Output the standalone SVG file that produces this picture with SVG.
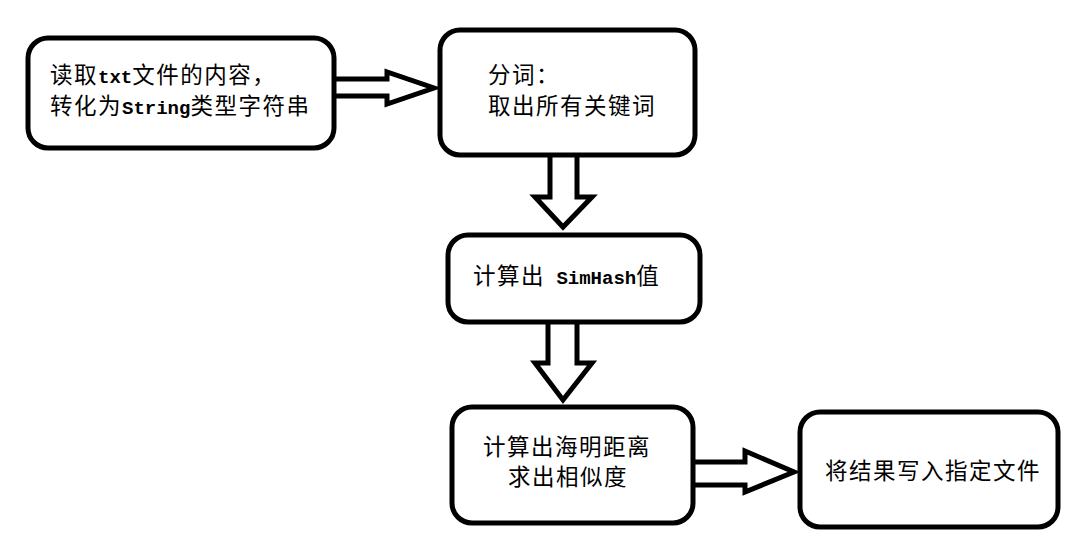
<svg xmlns="http://www.w3.org/2000/svg" width="1071" height="536" viewBox="0 0 1071 536">
<style>
.box{fill:#fff;stroke:#000;stroke-width:5}
.arr{fill:#fff;stroke:#000;stroke-width:5;stroke-linejoin:miter;stroke-miterlimit:10}
.t{font-family:"Noto Sans CJK SC","Noto Sans CJK JP",sans-serif;font-size:22.5px;letter-spacing:1.5px;fill:#000}
.l{font-family:"Liberation Mono",monospace;font-size:19px;letter-spacing:0;font-weight:bold}
</style>
<rect width="1071" height="536" fill="#fff"/>
<g id="connectors">
<path class="arr" d="M335,79 L387,79 L387,72 L434,88 L387,104 L387,96 L335,96"/>
<path class="arr" d="M550,155 L550,197 L535,197 L563,227 L592,197 L577,197 L577,155"/>
<path class="arr" d="M548,322 L548,363 L535,363 L563,400 L592,363 L577,363 L577,322"/>
<path class="arr" d="M693,462 L745,462 L745,451 L794,472 L745,492 L745,485 L693,485"/>
</g>
<g id="node1">
<rect class="box" x="28" y="38" width="306" height="110" rx="20"/>
<text class="t" x="50" y="83">读取<tspan class="l">txt</tspan>文件的内容，</text>
<text class="t" x="50" y="114">转化为<tspan class="l">String</tspan>类型字符串</text>
</g>
<g id="node2">
<rect class="box" x="440" y="30" width="255" height="125" rx="20"/>
<text class="t" x="488" y="83">分词：</text>
<text class="t" x="488" y="114">取出所有关键词</text>
</g>
<g id="node3">
<rect class="box" x="448" y="235" width="252" height="87" rx="20"/>
<text class="t" x="473" y="284">计算出<tspan class="l"> SimHash</tspan>值</text>
</g>
<g id="node4">
<rect class="box" x="452" y="407" width="241" height="116" rx="20"/>
<text class="t" x="483" y="455">计算出海明距离</text>
<text class="t" x="508" y="485">求出相似度</text>
</g>
<g id="node5">
<rect class="box" x="800" y="412" width="258" height="115" rx="20"/>
<text class="t" x="825" y="479">将结果写入指定文件</text>
</g>
</svg>
